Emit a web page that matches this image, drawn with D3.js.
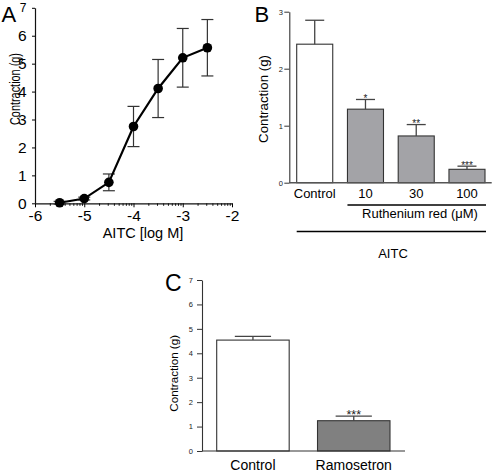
<!DOCTYPE html>
<html><head><meta charset="utf-8">
<script src="https://cdn.jsdelivr.net/npm/d3@7"></script>
<style>html,body{margin:0;padding:0;background:#fff}svg{display:block;font-family:"Liberation Sans",Arial,sans-serif}</style>
</head><body><svg id="c" width="494" height="474"></svg>
<script>
// Panel A: dose-response
const aDose = [-5.5, -5, -4.5, -4, -3.5, -3, -2.5];
const aMean = [0.02, 0.17, 0.75, 2.75, 4.11, 5.21, 5.57];
const aErr  = [0.05, 0.05, 0.30, 0.72, 1.04, 1.05, 1.01];
const aXTicks = [-6, -5, -4, -3, -2];
const aYTicks = [0, 1, 2, 3, 4, 5, 6, 7];
// Panel B: Ruthenium red
const bCats = ["Control", "10", "30", "100"];
const bMean = [2.43, 1.29, 0.82, 0.235];
const bErr  = [0.42, 0.17, 0.20, 0.055];
const bSig  = ["", "*", "**", "***"];
const bYTicks = [0, 1, 2, 3];
// Panel C: Ramosetron
const cCats = ["Control", "Ramosetron"];
const cMean = [4.54, 1.24];
const cErr  = [0.15, 0.19];
const cSig  = ["", "***"];
const cYTicks = [0, 1, 2, 3, 4, 5, 6, 7];

const svg = d3.select("#c");

// ---------- Panel A ----------
const gA = svg.append("g");
const xA = d3.scaleLinear().domain([-6, -2]).range([35, 232]);
const yA = d3.scaleLinear().domain([0, 7]).range([203.3, 7.8]);

// minor log ticks
const minor = [];
for (let d = -6; d < -2; d++) for (let k = 2; k <= 9; k++) minor.push(d + Math.log10(k));
gA.append("g").attr("transform", "translate(0,203.3)")
  .call(d3.axisBottom(xA).tickValues(minor).tickSize(2.5).tickFormat("").tickSizeOuter(0))
  .call(g => g.select(".domain").remove())
  .selectAll("line").attr("stroke", "#111");
const axA = gA.append("g").attr("transform", "translate(0,203.3)")
  .call(d3.axisBottom(xA).tickValues(aXTicks).tickSize(4).tickPadding(3).tickSizeOuter(0).tickFormat(d => String(d)));
axA.selectAll("text").attr("font-size", 15.5).attr("fill", "#000").attr("font-family", "Liberation Sans");
axA.select(".domain").attr("stroke", "#111").attr("stroke-width", 1.2);

const ayA = gA.append("g").attr("transform", "translate(35,0)")
  .call(d3.axisLeft(yA).tickValues(aYTicks).tickSize(3).tickPadding(5.5).tickSizeOuter(0).tickFormat(d => String(d)));
ayA.selectAll("text").attr("font-size", d => d === 7 ? 12 : 15.5).attr("fill", "#000").attr("font-family", "Liberation Sans");
ayA.select(".domain").attr("stroke", "#111").attr("stroke-width", 1.2);

// error bars
aDose.forEach((d, i) => {
  const x = xA(d), y1 = yA(aMean[i] + aErr[i]), y0 = yA(aMean[i] - aErr[i]);
  gA.append("line").attr("x1", x).attr("x2", x).attr("y1", y1).attr("y2", y0).attr("stroke", "#333").attr("stroke-width", 1.2);
  [y0, y1].forEach(yy => gA.append("line").attr("x1", x - 6).attr("x2", x + 6).attr("y1", yy).attr("y2", yy).attr("stroke", "#333").attr("stroke-width", 1.2));
});
gA.append("path").datum(aDose.map((d, i) => [d, aMean[i]]))
  .attr("fill", "none").attr("stroke", "#000").attr("stroke-width", 2.2)
  .attr("d", d3.line().x(d => xA(d[0])).y(d => yA(d[1])));
gA.selectAll("circle.pt").data(aDose).join("circle")
  .attr("cx", d => xA(d)).attr("cy", (d, i) => yA(aMean[i])).attr("r", 4.8).attr("fill", "#000");

gA.append("text").attr("transform", "translate(20,89) rotate(-90)").attr("text-anchor", "middle")
  .attr("font-size", 14).attr("textLength", 72).attr("lengthAdjust", "spacingAndGlyphs").text("Contraction (g)");
gA.append("text").attr("x", 143).attr("y", 238.3).attr("text-anchor", "middle").attr("font-size", 14.5).text("AITC [log M]");
gA.append("text").attr("x", 1.5).attr("y", 21.7).attr("font-size", 22).text("A");

// ---------- Panel B ----------
const gB = svg.append("g");
const yB = d3.scaleLinear().domain([0, 3]).range([182.7, 11.7]);
const xB = d3.scaleBand().domain(bCats).range([296.7, 485]).paddingInner(0.29).paddingOuter(0);
gB.selectAll("rect").data(bCats).join("rect")
  .attr("x", d => xB(d)).attr("width", xB.bandwidth())
  .attr("y", (d, i) => yB(bMean[i])).attr("height", (d, i) => yB(0) - yB(bMean[i]))
  .attr("fill", (d, i) => i === 0 ? "#fff" : "#a3a3a7").attr("stroke", "#333").attr("stroke-width", 1.1);
bCats.forEach((c, i) => {
  const cx = xB(c) + xB.bandwidth() / 2, yt = yB(bMean[i]), ye = yB(bMean[i] + bErr[i]), hw = xB.bandwidth() / 4 + 0.5;
  gB.append("line").attr("x1", cx).attr("x2", cx).attr("y1", yt).attr("y2", ye).attr("stroke", "#444").attr("stroke-width", 1.3);
  gB.append("line").attr("x1", cx - hw).attr("x2", cx + hw).attr("y1", ye).attr("y2", ye).attr("stroke", "#444").attr("stroke-width", 1.3);
  if (bSig[i]) gB.append("text").attr("x", cx).attr("y", ye + 2.6).attr("text-anchor", "middle").attr("font-size", 10).attr("fill", "#222").text(bSig[i]);
  gB.append("text").attr("x", cx).attr("y", 198).attr("text-anchor", "middle").attr("font-size", 13).text(c);
});
const ayB = gB.append("g").attr("transform", "translate(289.3,0)")
  .call(d3.axisLeft(yB).tickValues(bYTicks).tickSize(5).tickPadding(1.5).tickSizeOuter(0).tickFormat(d => String(d)));
ayB.selectAll("text").attr("font-size", 7.5).attr("fill", "#222").attr("font-family", "Liberation Sans");
ayB.selectAll("line").attr("stroke", "#333");
ayB.select(".domain").attr("stroke", "#333").attr("stroke-width", 1.1);
gB.append("line").attr("x1", 289.3).attr("x2", 491.7).attr("y1", yB(0)).attr("y2", yB(0)).attr("stroke", "#555").attr("stroke-width", 1.5);
gB.append("line").attr("x1", xB("10")).attr("x2", 486).attr("y1", 205).attr("y2", 205).attr("stroke", "#000").attr("stroke-width", 1.4);
gB.append("text").attr("x", 420).attr("y", 218).attr("text-anchor", "middle").attr("font-size", 13).text("Ruthenium red (μM)");
gB.append("line").attr("x1", xB("Control")).attr("x2", 486).attr("y1", 231.5).attr("y2", 231.5).attr("stroke", "#000").attr("stroke-width", 1.4);
gB.append("text").attr("x", 393).attr("y", 257.5).attr("text-anchor", "middle").attr("font-size", 13).text("AITC");
gB.append("text").attr("transform", "translate(268,99) rotate(-90)").attr("text-anchor", "middle").attr("font-size", 13.3).text("Contraction (g)");
gB.append("text").attr("x", 254.5).attr("y", 21.7).attr("font-size", 22).text("B");

// ---------- Panel C ----------
const gC = svg.append("g");
const yC = d3.scaleLinear().domain([0, 7]).range([451, 280]);
const xC = d3.scaleBand().domain(cCats).range([216.7, 390]).paddingInner(0.281).paddingOuter(0);
gC.selectAll("rect").data(cCats).join("rect")
  .attr("x", d => xC(d)).attr("width", xC.bandwidth())
  .attr("y", (d, i) => yC(cMean[i])).attr("height", (d, i) => yC(0) - yC(cMean[i]))
  .attr("fill", (d, i) => i === 0 ? "#fff" : "#808080").attr("stroke", "#333").attr("stroke-width", 1.1);
cCats.forEach((c, i) => {
  const cx = xC(c) + xC.bandwidth() / 2, yt = yC(cMean[i]), ye = yC(cMean[i] + cErr[i]), hw = xC.bandwidth() / 4;
  gC.append("line").attr("x1", cx).attr("x2", cx).attr("y1", yt).attr("y2", ye).attr("stroke", "#444").attr("stroke-width", 1.3);
  gC.append("line").attr("x1", cx - hw).attr("x2", cx + hw).attr("y1", ye).attr("y2", ye).attr("stroke", "#444").attr("stroke-width", 1.3);
  if (cSig[i]) gC.append("text").attr("x", cx).attr("y", ye + 2.7).attr("text-anchor", "middle").attr("font-size", 12.5).attr("fill", "#222").text(cSig[i]);
  gC.append("text").attr("x", cx).attr("y", 470).attr("text-anchor", "middle").attr("font-size", 14).text(c);
});
const ayC = gC.append("g").attr("transform", "translate(202,0)")
  .call(d3.axisLeft(yC).tickValues(cYTicks).tickSize(5).tickPadding(4).tickSizeOuter(0).tickFormat(d => String(d)));
ayC.selectAll("text").attr("font-size", 7.5).attr("fill", "#222").attr("font-family", "Liberation Sans");
ayC.selectAll("line").attr("stroke", "#333");
ayC.select(".domain").attr("stroke", "#333").attr("stroke-width", 1.1);
gC.append("line").attr("x1", 202).attr("x2", 405).attr("y1", yC(0)).attr("y2", yC(0)).attr("stroke", "#333").attr("stroke-width", 1.2);
gC.append("text").attr("transform", "translate(178.3,373.3) rotate(-90)").attr("text-anchor", "middle").attr("font-size", 11.6).text("Contraction (g)");
gC.append("text").attr("x", 165).attr("y", 290.5).attr("font-size", 23).text("C");
</script></body></html>
